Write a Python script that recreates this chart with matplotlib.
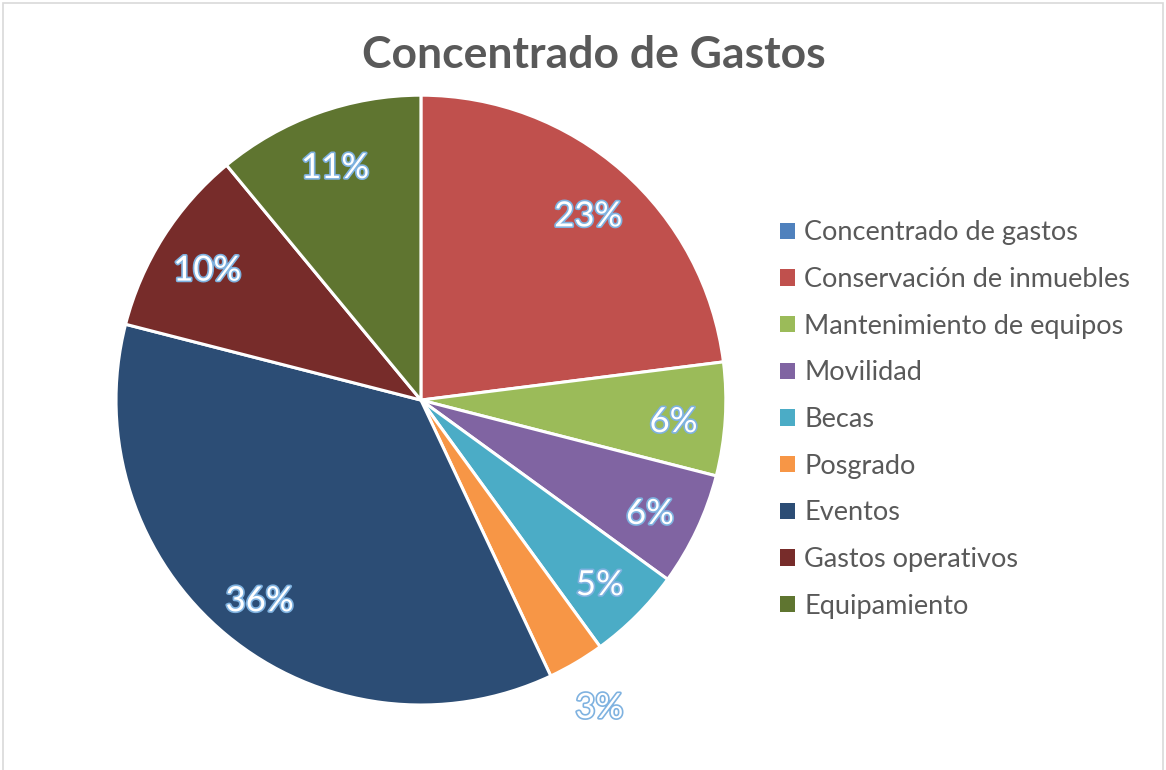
import matplotlib.pyplot as plt
import matplotlib.patheffects as pe
from matplotlib.patches import Rectangle
import numpy as np

# datos
categorias = ["Concentrado de gastos", "Conservación de inmuebles", "Mantenimiento de equipos",
              "Movilidad", "Becas", "Posgrado", "Eventos", "Gastos operativos", "Equipamiento"]
valores = [0, 23, 6, 6, 5, 3, 36, 10, 11]
colores = ["#4F81BD", "#C0504D", "#9BBB59", "#8064A2", "#4BACC6",
           "#F79646", "#2C4D75", "#772C2A", "#5F7530"]

plt.rcParams['font.family'] = ['Lato', 'DejaVu Sans']

fig = plt.figure(figsize=(11.66, 7.70), dpi=100)
fig.patches.append(Rectangle((0.003, -0.01), 0.994, 1.006, transform=fig.transFigure,
                             fill=False, edgecolor="#D9D9D9", linewidth=1.2))

ax = fig.add_axes([0.0995, 0.0844, 0.523, 0.792])
wedges, _ = ax.pie(valores, colors=colores, startangle=90, counterclock=False, radius=1,
                   wedgeprops=dict(edgecolor="white", linewidth=2.2))
ax.set_xlim(-1, 1)
ax.set_ylim(-1, 1)
ax.set_aspect("equal")

# etiquetas de porcentaje
total = sum(valores)
acum = 0
for v in valores:
    if v == 0:
        continue
    medio = 90 - (acum + v / 2) / total * 360
    acum += v
    r = 1.15 if v < 4 else 0.83
    ang = np.deg2rad(medio)
    ax.text(r * np.cos(ang), r * np.sin(ang) - 0.02, f"{round(v / total * 100)}%",
            ha="center", va="center", fontsize=25, color="white",
            path_effects=[pe.withStroke(linewidth=2.4, foreground="#7FB2E0")])

fig.text(0.509, 0.928, "Concentrado de Gastos", ha="center", va="center",
         fontsize=32, fontweight="bold", color="#595959")

handles = [Rectangle((0, 0), 1, 1, facecolor=c) for c in colores]
fig.legend(handles, categorias, loc="center left", bbox_to_anchor=(0.648, 0.455),
           frameon=False, fontsize=19.5, labelcolor="#595959",
           handlelength=0.55, handleheight=0.55, handletextpad=0.35, labelspacing=0.8)

plt.savefig("out.png", dpi=100)
